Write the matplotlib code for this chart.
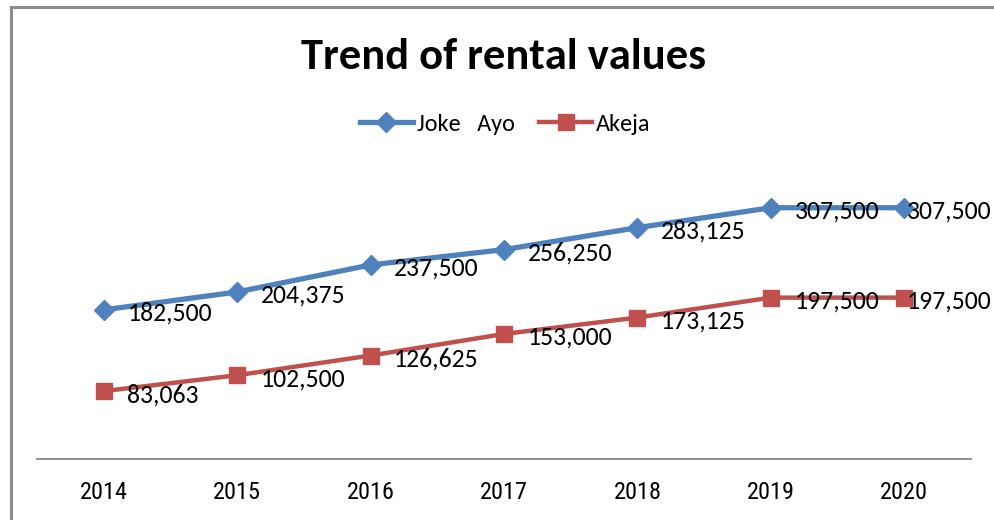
import matplotlib
matplotlib.use("Agg")
import matplotlib.pyplot as plt
from matplotlib import font_manager
from matplotlib.lines import Line2D

years = ["2014", "2015", "2016", "2017", "2018", "2019", "2020"]
joke_ayo = [182500, 204375, 237500, 256250, 283125, 307500, 307500]
akeja = [83063, 102500, 126625, 153000, 173125, 197500, 197500]
series_names = ["Joke   Ayo", "Akeja"]
title = "Trend of rental values"

names = {f.name for f in font_manager.fontManager.ttflist}
main_font = "Carlito" if "Carlito" in names else "Lato"
narrow_font = main_font
for cand in ["Liberation Sans Narrow", "DejaVu Sans Condensed", "Roboto Condensed",
             "Open Sans Condensed", "Noto Sans Condensed"]:
    if cand in names:
        narrow_font = cand
        break

fig = plt.figure(figsize=(9.94, 5.2), dpi=100)
W, H = 994, 520
ax = fig.add_axes([37 / W, 61 / H, (971 - 37) / W, 286 / H])

x = list(range(len(years)))
blue = "#4F81BD"
red = "#C0504D"
ax.plot(x, joke_ayo, color=blue, lw=3.8, marker="D", ms=10.5,
        label=series_names[0], zorder=3)
ax.plot(x, akeja, color=red, lw=3.2, marker="s", ms=12,
        label=series_names[1], zorder=3)

last = len(years) - 1
for series in (joke_ayo, akeja):
    for xi, v in zip(x, series):
        dx = 2 if xi == last else 17
        ax.annotate(f"{v:,}", (xi, v), xytext=(dx, -2.5), textcoords="offset points",
                    ha="left", va="center", fontsize=18.5, family=main_font,
                    color="black", zorder=4)

ax.set_xlim(-0.5, len(years) - 0.5)
ax.set_ylim(0, 350000)
ax.set_xticks(x)
ax.set_xticklabels(years, family=narrow_font, fontsize=17.5)
ax.tick_params(axis="x", length=0, pad=16)
ax.set_yticks([])
for s in ["left", "right", "top"]:
    ax.spines[s].set_visible(False)
ax.spines["bottom"].set_color("#868686")
ax.spines["bottom"].set_linewidth(1.3)

fig.text(503 / W, 1 - 57 / H, title, ha="center", va="center", fontsize=32,
         fontweight="bold", family=main_font)

leg = fig.legend(loc="center", bbox_to_anchor=(505 / W, 1 - 124 / H), ncol=2, frameon=False,
                 prop={"family": main_font, "size": 17.5}, handlelength=2.2,
                 handletextpad=0.15, columnspacing=1.0)

# chart border (top and left visible)
fig.add_artist(Line2D([11 / W, 1], [1 - 7 / H, 1 - 7 / H], transform=fig.transFigure,
                      color="#8C8C8C", lw=2.2))
fig.add_artist(Line2D([11 / W, 11 / W], [0, 1 - 7 / H], transform=fig.transFigure,
                      color="#8C8C8C", lw=2.2))

fig.savefig("out.png", dpi=100)
